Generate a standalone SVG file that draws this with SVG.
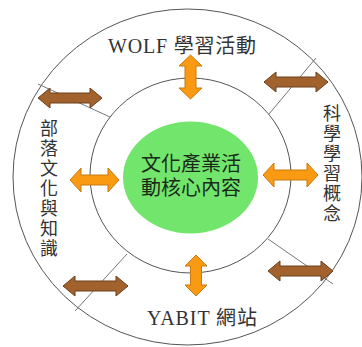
<svg xmlns="http://www.w3.org/2000/svg" width="362" height="347" viewBox="0 0 362 347">
<style>
.ring{fill:none;stroke:#555;stroke-width:1}
.div{stroke:#777;stroke-width:1}
.org{fill:#F99A12;stroke:#C77A10;stroke-width:1;stroke-linejoin:round}
.brn{fill:#A2622D;stroke:#6A3F1C;stroke-width:1;stroke-linejoin:round}
.lbl{font-family:"Liberation Serif","Noto Sans CJK TC",serif;font-size:20px;fill:#333}
.cj{font-family:"Liberation Serif","Noto Sans CJK TC",serif;font-size:18px;fill:#333}
.ctr{font-family:"Liberation Serif","Noto Sans CJK TC",sans-serif;font-size:20px;fill:#1a2a1a}
</style>
<rect width="362" height="347" fill="#fff"/>
<g id="rings">
<ellipse class="ring" cx="187.5" cy="177" rx="174.5" ry="168"/>
<ellipse class="ring" cx="190.5" cy="175.5" rx="100.5" ry="97.5"/>
</g>
<g id="connectors">
<line class="div" x1="38" y1="84" x2="110" y2="117"/>
<line class="div" x1="316" y1="58" x2="269" y2="114"/>
<line class="div" x1="127" y1="254" x2="75" y2="311"/>
<line class="div" x1="268" y1="239" x2="333" y2="284"/>
<path class="org" d="M70,180 L81,168 L81,175 L108,175 L108,168 L119,180 L108,192 L108,185 L81,185 L81,192 Z"/>
<path class="org" d="M263,175 L274,163 L274,170 L307,170 L307,163 L318,175 L307,187 L307,180 L274,180 L274,187 Z"/>
<path class="org" d="M190.5,55 L179,66 L185,66 L185,88 L179,88 L190.5,99 L202,88 L196,88 L196,66 L202,66 Z"/>
<path class="org" d="M196,255 L185,266 L190.5,266 L190.5,285 L185,285 L196,296 L207,285 L201.5,285 L201.5,266 L207,266 Z"/>
<path class="brn" d="M38,98 L50,88 L50,93 L90,93 L90,88 L102,98 L90,108 L90,103 L50,103 L50,108 Z"/>
<path class="brn" d="M264,82 L276,72 L276,77 L316,77 L316,72 L328,82 L316,92 L316,87 L276,87 L276,92 Z"/>
<path class="brn" d="M63,286 L75,276 L75,281 L116,281 L116,276 L128,286 L116,296 L116,291 L75,291 L75,296 Z"/>
<path class="brn" d="M268,271 L280,261 L280,266 L321,266 L321,261 L333,271 L321,281 L321,276 L280,276 L280,281 Z"/>
</g>
<g id="core">
<ellipse cx="190.5" cy="177.5" rx="67.5" ry="56" fill="#72E66C"/>
<text class="ctr" x="191" y="171" text-anchor="middle">文化產業活</text>
<text class="ctr" x="191" y="195" text-anchor="middle">動核心內容</text>
</g>
<g id="wolf">
<text class="lbl" x="108" y="53" textLength="148">WOLF 學習活動</text>
</g>
<g id="yabit">
<text class="lbl" x="147" y="325" textLength="110">YABIT 網站</text>
</g>
<g id="tribal">
<text class="cj" text-anchor="middle"><tspan x="49" y="135">部</tspan><tspan x="49" y="155">落</tspan><tspan x="49" y="175">文</tspan><tspan x="49" y="195">化</tspan><tspan x="49" y="215">與</tspan><tspan x="49" y="235">知</tspan><tspan x="49" y="255">識</tspan></text>
</g>
<g id="science">
<text class="cj" text-anchor="middle"><tspan x="332" y="120">科</tspan><tspan x="332" y="140">學</tspan><tspan x="332" y="160">學</tspan><tspan x="332" y="180">習</tspan><tspan x="332" y="200">概</tspan><tspan x="332" y="220">念</tspan></text>
</g>
</svg>
